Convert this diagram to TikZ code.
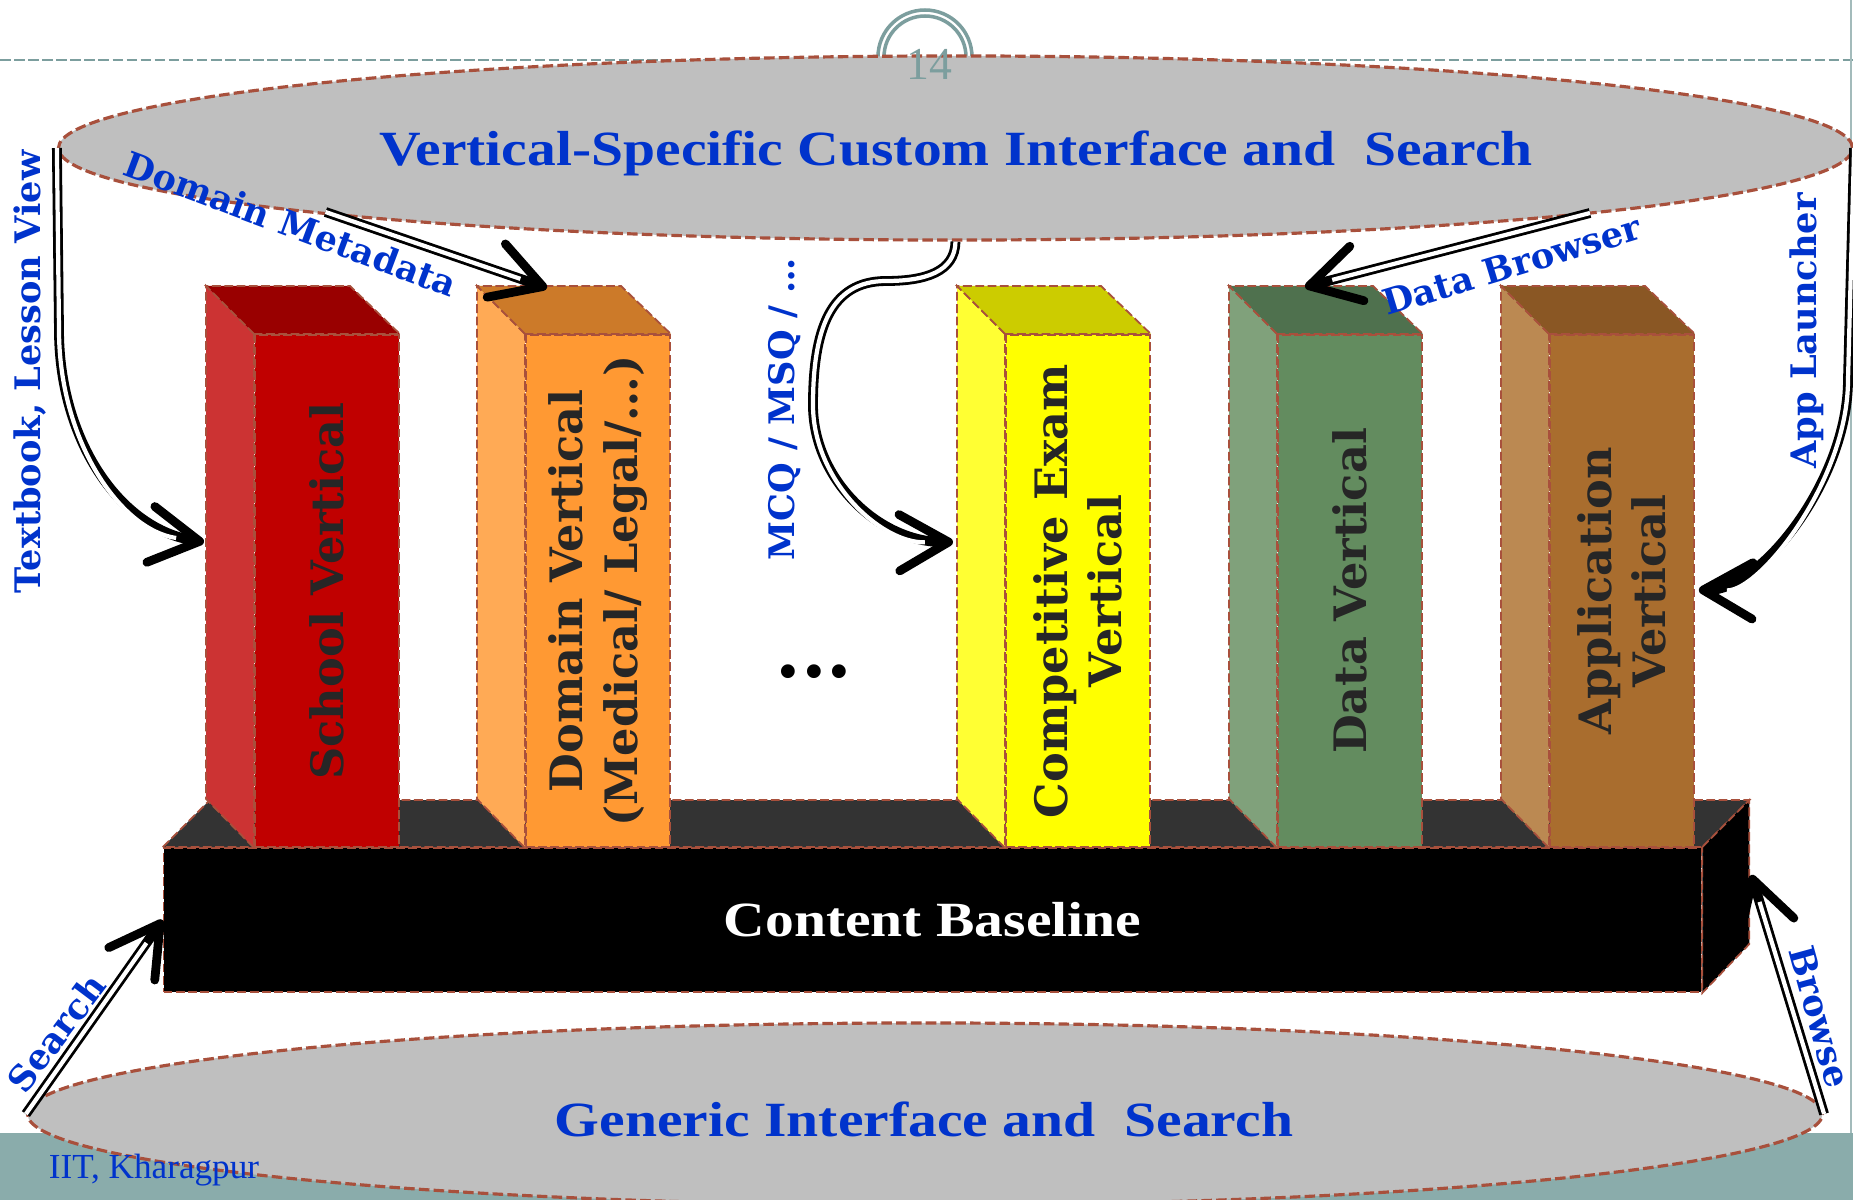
\documentclass[tikz,border=0pt]{standalone}
\usepackage{fontspec}
\setmainfont{DejaVu Serif}
\newfontfamily\ttlfont[FakeStretch=1.17]{Liberation Serif}
\newfontfamily\iitfont{Liberation Serif}
\usetikzlibrary{shapes.geometric,arrows.meta,calc}
\definecolor{lblblue}{HTML}{0033CC}
\definecolor{edgecol}{HTML}{A8503C}
\definecolor{ellgray}{HTML}{BFBFBF}
\definecolor{tealline}{HTML}{7C9E9E}
\definecolor{bandcol}{HTML}{8AACAB}
\definecolor{ptext}{HTML}{262626}
\definecolor{schF}{HTML}{C00000}\definecolor{schS}{HTML}{CC3333}\definecolor{schT}{HTML}{990000}
\definecolor{domF}{HTML}{FF9933}\definecolor{domS}{HTML}{FFAA55}\definecolor{domT}{HTML}{CC7A29}
\definecolor{excF}{HTML}{FFFF00}\definecolor{excS}{HTML}{FFFF33}\definecolor{excT}{HTML}{CCCC00}
\definecolor{datF}{HTML}{638C5F}\definecolor{datS}{HTML}{80A17B}\definecolor{datT}{HTML}{4F714E}
\definecolor{appF}{HTML}{A96D2E}\definecolor{appS}{HTML}{BB8952}\definecolor{appT}{HTML}{8A5724}
\tikzset{
  edgedash/.style={draw=edgecol, line width=0.5pt, dash pattern=on 2.5pt off 1pt},
  ell/.style={ellipse, fill=ellgray, draw=edgecol, line width=0.9pt, dash pattern=on 3pt off 1.2pt, inner sep=0pt},
  pillarfront/.style={rectangle, edgedash, inner sep=0pt, minimum width=1.44cm, minimum height=5.12cm},
  ptxt/.style={rotate=90, align=center, text=ptext, font=\bfseries\fontsize{12.7}{15.5}\selectfont},
  lbl/.style={text=lblblue, font=\bfseries\fontsize{10}{12}\selectfont, inner sep=0pt},
  bigtitle/.style={text=lblblue, font=\ttlfont\bfseries\fontsize{14}{16}\selectfont, inner sep=0pt},
  dbl/.style={draw=black, line width=2.8pt,
    -{Straight Barb[length=14pt,width=16pt,line width=2.5pt,round]},
    postaction={draw=white, line width=1.2pt, -, shorten >=8pt}},
}
\newcommand{\mkpillar}[6]{%
  \node[pillarfront, fill=#3, anchor=south west] (#1) at (#2,848) {};
  \filldraw[fill=#4, edgedash] (#1.north west) -- ++(-48,-48) -- ++(0,513) -- (#1.south west) -- cycle;
  \filldraw[fill=#5, edgedash] (#1.north west) -- ++(-48,-48) -- ++(144,0) -- (#1.north east) -- cycle;
  \node[ptxt] (#1-txt) at (#1.center) {#6};
}
\begin{document}
\begin{tikzpicture}[x=0.01cm,y=-0.01cm]
\clip (0,0) rectangle (1853,1200);
\fill[white] (0,0) rectangle (1853,1200);
% slide decorations
\fill[bandcol] (0,1133) rectangle (1853,1200);
\draw[tealline, line width=0.7pt, dash pattern=on 3pt off 1pt] (0,60) -- (1853,60);
\draw[tealline!70, line width=0.5pt] (1851,0) -- (1851,1133);
\draw[tealline, line width=1pt] (925,57) circle[radius=47];
\draw[tealline, line width=1pt] (925,57) circle[radius=41];
% ellipses
\node[ell, minimum width=17.93cm, minimum height=1.84cm] (top) at (955.5,148) {};
\node[ell, minimum width=17.94cm, minimum height=1.82cm] (bot) at (925,1114) {};
\node[bigtitle] (ttl) at (956,153) {Vertical-Specific Custom Interface and\ \ Search};
\node[bigtitle] (gen) at (924,1119) {Generic Interface and\ \ Search};
\node[text=tealline, font=\iitfont\fontsize{13}{13}\selectfont, inner sep=0pt] (pg) at (929,64) {14};
\node[text=lblblue, font=\iitfont\fontsize{10}{12}\selectfont, inner sep=0pt] (iit) at (154,1170) {IIT, Kharagpur};
% content baseline box
\node[rectangle, fill=black, edgedash, inner sep=0pt, minimum width=15.37cm, minimum height=1.44cm,
      text=white, font=\ttlfont\bfseries\fontsize{14}{16}\selectfont] (base) at (932.5,920) {Content Baseline};
\filldraw[fill=black!80, edgedash] (base.north west) -- ++(47,-47) -- ([shift={(47,-47)}]base.north east) -- (base.north east) -- cycle;
\filldraw[fill=black, edgedash] (base.north east) -- ++(47,-47) -- ++(0,144) -- (base.south east) -- cycle;
% pillars
\mkpillar{school}{254}{schF}{schS}{schT}{School Vertical}
\mkpillar{domain}{525}{domF}{domS}{domT}{Domain Vertical\\(Medical/ Legal/…)}
\mkpillar{exam}{1005}{excF}{excS}{excT}{Competitive Exam\\Vertical}
\mkpillar{data}{1277}{datF}{datS}{datT}{Data Vertical}
\mkpillar{app}{1549}{appF}{appS}{appT}{Application\\Vertical}
\node[font=\bfseries\fontsize{21}{21}\selectfont, inner sep=0pt] (dots) at (814,672) {...};
% connectors
\draw[dbl] (top.west) -- (59,330) .. controls (59,440) and (120,530) .. ([shift={(-50,-49)}]school.west);
\draw[dbl] ([shift={(-630,64)}]top.center) -- ([shift={(22,-303)}]domain.west);
\draw[dbl] (top.south) .. controls (955,272) and (925,281) .. (886,281)
   .. controls (830,281) and (813,330) .. (813,405)
   .. controls (813,480) and (880,543) .. ([shift={(-52,-49)}]exam.west);
\draw[dbl] ([shift={(634.5,65)}]top.center) -- ([shift={(28,-304)}]data.west);
\draw[dbl] (top.east) -- (1848,380) .. controls (1848,480) and (1760,591) .. ([shift={(4,-1)}]app.east);
\draw[dbl] (bot.west) -- (base.west);
\draw[dbl] (bot.east) -- ([shift={(49,-45)}]base.east);
% labels
\node[lbl, rotate=90] (l1) at (30,372) {Textbook, Lesson View};
\node[lbl, rotate=-20.5] (l2) at (291,224) {Domain Metadata};
\node[lbl, rotate=90] (l3) at (785,409) {MCQ / MSQ / …};
\node[lbl, rotate=16.9] (l4) at (1512,265) {Data Browser};
\node[lbl, rotate=90] (l5) at (1807,331) {App Launcher};
\node[lbl, rotate=53] (l6) at (56,1033) {Search};
\node[lbl, rotate=-74.6] (l7) at (1820,1017) {Browse};
\end{tikzpicture}
\end{document}
